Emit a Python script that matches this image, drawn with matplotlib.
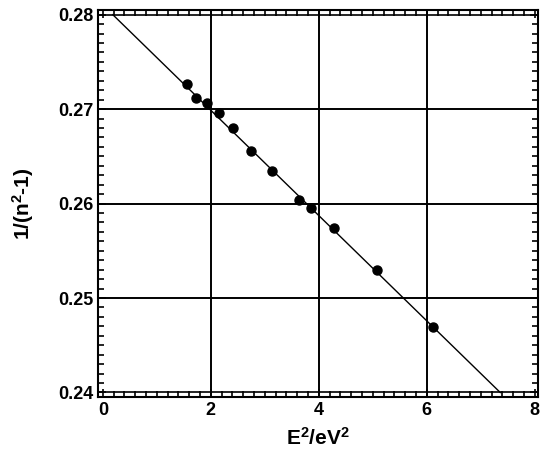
import matplotlib.pyplot as plt
from matplotlib.ticker import MultipleLocator

plt.rcParams['font.family'] = ['Liberation Sans', 'DejaVu Sans']
plt.rcParams['mathtext.fontset'] = 'custom'
plt.rcParams['mathtext.bf'] = 'Liberation Sans:bold'
plt.rcParams['mathtext.rm'] = 'Liberation Sans:bold'
plt.rcParams['mathtext.default'] = 'bf'

# measured points
e2 = [1.56, 1.73, 1.92, 2.15, 2.41, 2.74, 3.13, 3.64, 3.85, 4.28, 5.08, 6.11]
inv_n = [0.2727, 0.2712, 0.2706, 0.2696, 0.2680, 0.2656, 0.2634, 0.2604,
         0.2595, 0.2574, 0.2530, 0.2469]

# fitted straight line (end points)
fit_x = [0.185, 7.36]
fit_y = [0.2800, 0.2400]

xticks = [0, 2, 4, 6, 8]
yticks = [0.24, 0.25, 0.26, 0.27, 0.28]
ylabels = ['0.24', '0.25', '0.26', '0.27', '0.28']

fig = plt.figure(figsize=(5.49, 4.63), dpi=100)
ax = fig.add_axes([0.1785, 0.1425, 0.8015, 0.8355])

# grid lines drawn by hand (none on the left/right edges)
for gx in xticks[1:-1]:
    ax.axvline(gx, color='black', lw=1.4)
for gy in yticks:
    ax.axhline(gy, color='black', lw=1.2 if gy in (0.24, 0.28) else 1.4)

ax.plot(fit_x, fit_y, color='black', lw=1.0)
ax.plot(e2, inv_n, 'o', color='black', markersize=6.5)

ax.set_xlim(-0.09, 8.06)
ax.set_ylim(0.23952, 0.28048)

ax.set_xticks(xticks)
ax.xaxis.set_minor_locator(MultipleLocator(0.2))
ax.set_yticks(yticks)
ax.set_yticklabels(ylabels)
ax.yaxis.set_minor_locator(MultipleLocator(0.001))

ax.tick_params(which='both', direction='in', top=True, right=True,
               labelsize=13, width=1.2)
ax.tick_params(which='major', length=6)
ax.tick_params(which='minor', length=4)
for lab in ax.get_xticklabels() + ax.get_yticklabels():
    lab.set_fontweight('bold')
for sp in ax.spines.values():
    sp.set_linewidth(1.5)

ax.set_xlabel('E$^2$/eV$^2$', fontsize=15, fontweight='bold')
ax.set_ylabel('1/(n$^2$-1)', fontsize=15, fontweight='bold')
ax.xaxis.labelpad = 6
ax.yaxis.set_label_coords(-0.14, 0.5)

fig.savefig('out.png', dpi=100)
